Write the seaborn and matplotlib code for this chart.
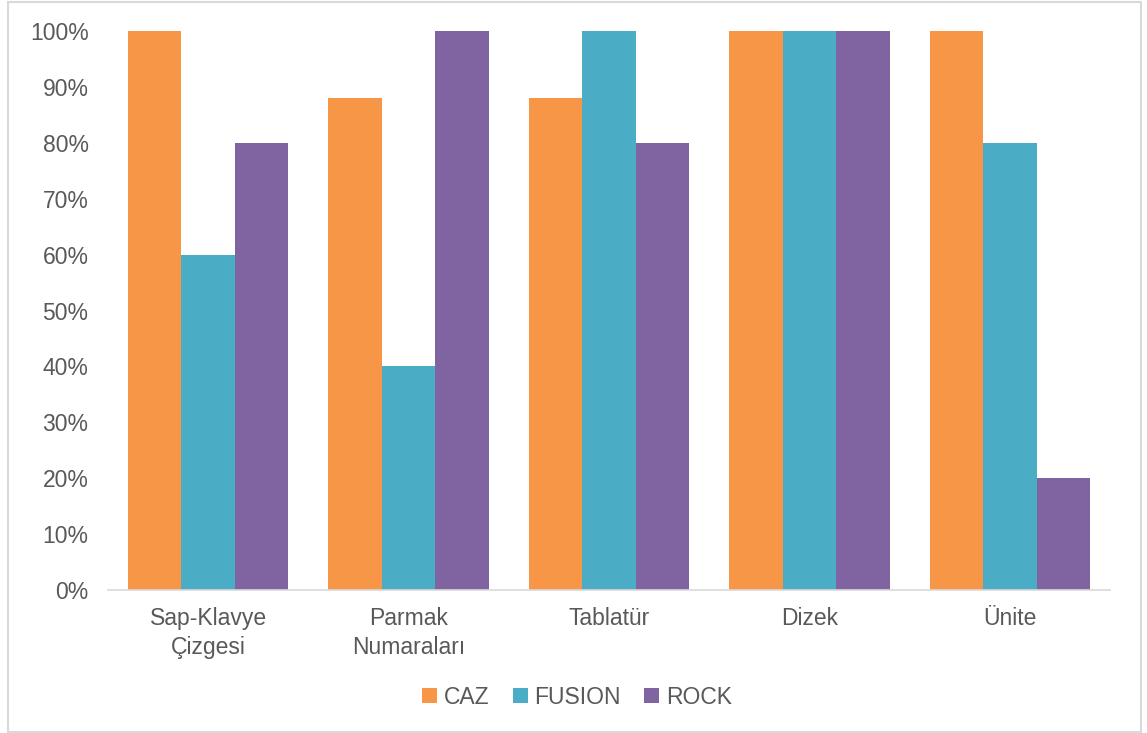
import matplotlib
matplotlib.use("Agg")
import matplotlib.pyplot as plt
from matplotlib.patches import Rectangle
from matplotlib.ticker import FuncFormatter
import seaborn as sns
import pandas as pd

categories = ["Sap-Klavye\nÇizgesi", "Parmak\nNumaraları", "Tablatür", "Dizek", "Ünite"]
series = ["CAZ", "FUSION", "ROCK"]
caz = [100, 88, 88, 100, 100]
fusion = [60, 40, 100, 100, 80]
rock = [80, 100, 80, 100, 20]
colors = ["#F79646", "#4BACC6", "#8064A2"]

rows = []
for name, vals in zip(series, [caz, fusion, rock]):
    for cat, v in zip(categories, vals):
        rows.append({"Kategori": cat, "Grup": name, "Oran": v})
df = pd.DataFrame(rows)

sns.set_theme(style="white")
plt.rcParams["font.family"] = ["Liberation Sans", "DejaVu Sans"]

fig = plt.figure(figsize=(11.47, 7.33), dpi=100)
ax = fig.add_axes([108 / 1147, 1 - 590 / 733, (1110 - 108) / 1147, (590 - 31) / 733])

sns.barplot(data=df, x="Kategori", y="Oran", hue="Grup", palette=colors,
            order=categories, hue_order=series, width=0.8, saturation=1,
            errorbar=None, ax=ax, linewidth=0)

ax.set_xlim(-0.5, 4.5)
ax.set_ylim(0, 100)
ax.set_yticks(range(0, 101, 10))
ax.yaxis.set_major_formatter(FuncFormatter(lambda v, _: f"{int(v)}%"))
ax.set_xlabel("")
ax.set_ylabel("")
for s in ["top", "right", "left"]:
    ax.spines[s].set_visible(False)
ax.spines["bottom"].set_color("#D9D9D9")
ax.spines["bottom"].set_linewidth(1.2)
ax.tick_params(axis="both", length=0, labelsize=16.5, labelcolor="#595959")
ax.tick_params(axis="y", pad=14)
ax.tick_params(axis="x", pad=12)
for lbl in ax.get_xticklabels():
    lbl.set_linespacing(1.35)

ax.legend(loc="center", bbox_to_anchor=(577 / 1147, 1 - 697 / 733),
          bbox_transform=fig.transFigure, ncol=3, frameon=False,
          fontsize=16.5, labelcolor="#595959", handlelength=0.65,
          handleheight=0.65, handletextpad=0.3, columnspacing=1.0)

fig.patches.append(Rectangle((8 / 1147, 1 / 733), 1133 / 1147, 730 / 733,
                             transform=fig.transFigure, fill=False,
                             edgecolor="#D9D9D9", linewidth=1.5))

fig.savefig("out.png", dpi=100)
